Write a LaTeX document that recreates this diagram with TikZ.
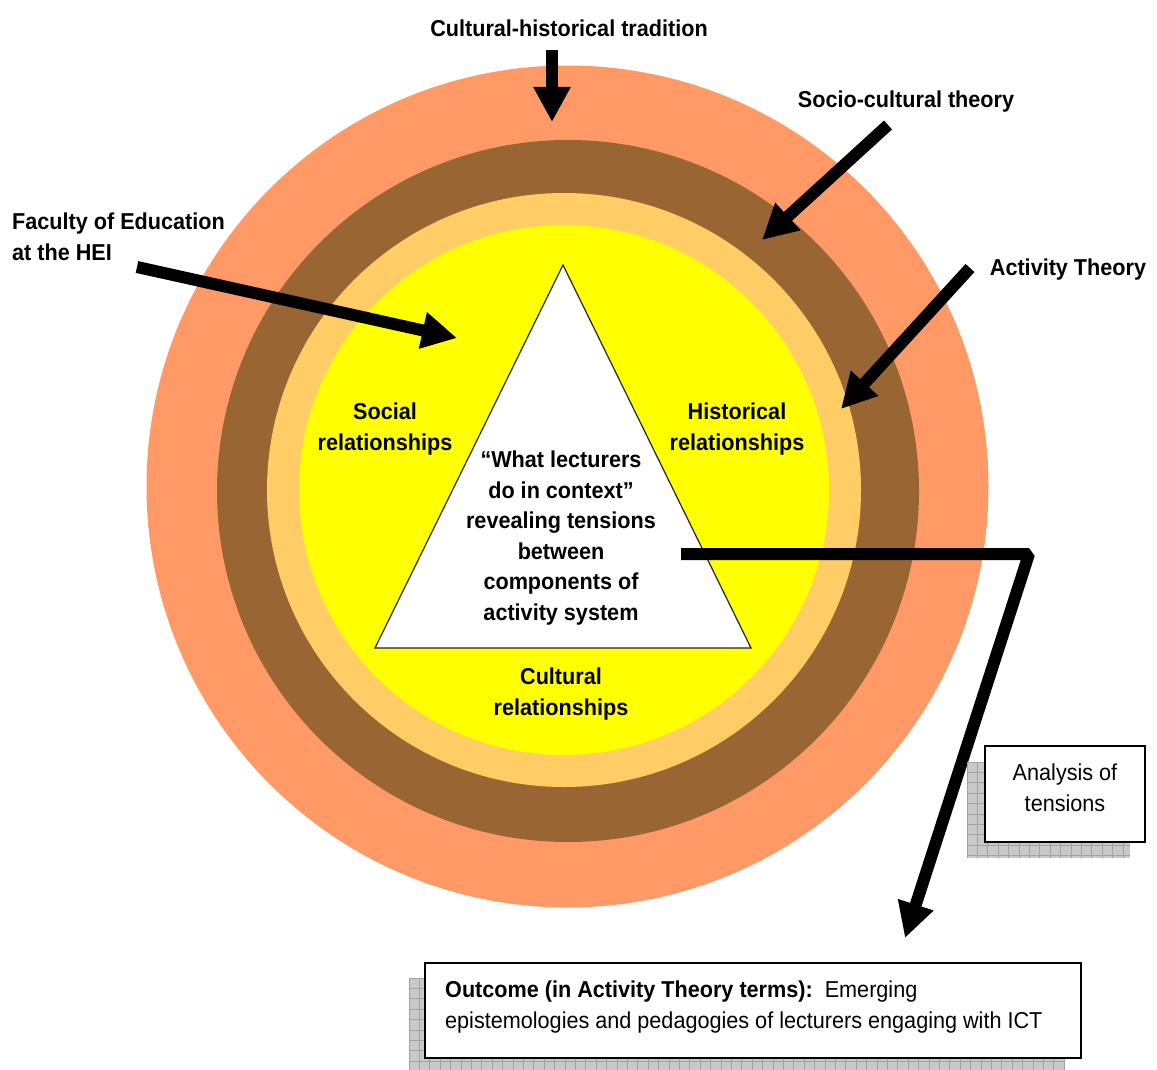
\documentclass[tikz,border=0pt]{standalone}
\usepackage{fontspec}
\setmainfont{Liberation Sans}[FakeStretch=0.94]
\usetikzlibrary{arrows.meta}

\definecolor{ringouter}{HTML}{FF9966}
\definecolor{ringbrown}{HTML}{996633}
\definecolor{ringlight}{HTML}{FFCC66}
\definecolor{ringcore}{HTML}{FFFF00}
\definecolor{shadowfill}{HTML}{C9C9C9}
\definecolor{shadowgrid}{HTML}{A2A2A2}

\begin{document}
\begin{tikzpicture}[x=1pt,y=-1pt,
  ring/.style={circle, inner sep=0pt, draw=none},
  boldtext/.style={font=\fontsize{23}{30.5}\selectfont\bfseries, align=center, inner sep=0pt},
  bodytext/.style={font=\fontsize{23}{30.5}\selectfont, inner sep=0pt},
  bigarrow/.style={line width=12pt, -{Triangle[width=35pt,length=35pt]}},
  textbox/.style={draw=black, line width=1.6pt, fill=white, inner sep=0pt},
  gridshadow/.style={fill=shadowfill}
]
\useasboundingbox (0,0) rectangle (1157,1070);
\fill[white] (0,0) rectangle (1157,1070);
\clip (0,0) rectangle (1157,1070);

% concentric rings
\node[ring, fill=ringouter, minimum size=842pt] (outer) at (567.5,486.5) {};
\node[ring, fill=ringbrown, minimum size=702pt] (brown) at (568,491) {};
\node[ring, fill=ringlight, minimum size=594pt] (light) at (564,490) {};
\node[ring, fill=ringcore, minimum size=530pt] (core) at (564,490) {};

% activity triangle
\coordinate (apex) at (563,265);
\coordinate (baseR) at (751,648);
\coordinate (baseL) at (375,648);
\draw[fill=white, draw=black!85, line width=1.2pt, line join=miter] (apex) -- (baseR) -- (baseL) -- cycle;

% labels
\node[boldtext] (tradition) at (569,28) {Cultural-historical tradition};
\node[boldtext] (sociocultural) at (906,102) {Socio-cultural theory};
\node[boldtext] (activitytheory) at (1068,270) {Activity Theory};
\node[boldtext, align=left, anchor=west] (faculty) at (12,237) {Faculty of Education\\at the HEI};
\node[boldtext] (social) at (385,429) {Social\\relationships};
\node[boldtext] (historical) at (737,429) {Historical\\relationships};
\node[boldtext] (cultural) at (561,694) {Cultural\\relationships};
\node[boldtext] (lecturers) at (561,538) {“What lecturers\\do in context”\\revealing tensions\\between\\components of\\activity system};

% arrows into the rings
\coordinate (tradTail) at (552,50);
\coordinate (tradTip) at (552,122);
\coordinate (socioTail) at (888,125);
\coordinate (socioTip) at (762,240);
\coordinate (actTail) at (970,268);
\coordinate (actTip) at (841,409);
\coordinate (facTail) at (137,267);
\coordinate (facTip) at (457,338);
\draw[bigarrow] (tradTail) -- (tradTip);
\draw[bigarrow] (socioTail) -- (socioTip);
\draw[bigarrow] (actTail) -- (actTip);
\draw[bigarrow] (facTail) -- (facTip);

% outcome connector
\coordinate (outStart) at (681,554);
\coordinate (outBend) at (1029,554);
\coordinate (outTip) at (905,938);
\draw[bigarrow, line join=bevel] (outStart) -- (outBend) -- (outTip);

% gridded shadows
\begin{scope}
  \clip (967,762) rectangle (1130,858);
  \fill[gridshadow] (967,762) rectangle (1130,858);
  \foreach \g in {0,10.4,...,170} {
    \draw[shadowgrid, line width=0.9pt] (967+\g,762) -- (967+\g,858);
    \draw[shadowgrid, line width=0.9pt] (967,762+\g) -- (1130,762+\g);
  }
\end{scope}
\begin{scope}
  \clip (409,978) rectangle (1065,1075);
  \fill[gridshadow] (409,978) rectangle (1065,1075);
  \foreach \g in {0,10.4,...,660} {
    \draw[shadowgrid, line width=0.9pt] (409+\g,978) -- (409+\g,1075);
  }
  \foreach \g in {0,10.4,...,100} {
    \draw[shadowgrid, line width=0.9pt] (409,978+\g) -- (1065,978+\g);
  }
\end{scope}

% boxes
\node[textbox, minimum width=160pt, minimum height=96pt] (analysisbox) at (1065,794) {};
\node[bodytext, align=center] (analysis) at (1065,788) {Analysis of\\tensions};
\node[textbox, minimum width=656pt, minimum height=95pt] (outcomebox) at (753,1010.5) {};
\node[bodytext, align=left, anchor=west] (outcome) at (445,1007) {\textbf{Outcome (in Activity Theory terms):}\ \ Emerging\\epistemologies and pedagogies of lecturers engaging with ICT};
\end{tikzpicture}
\end{document}
